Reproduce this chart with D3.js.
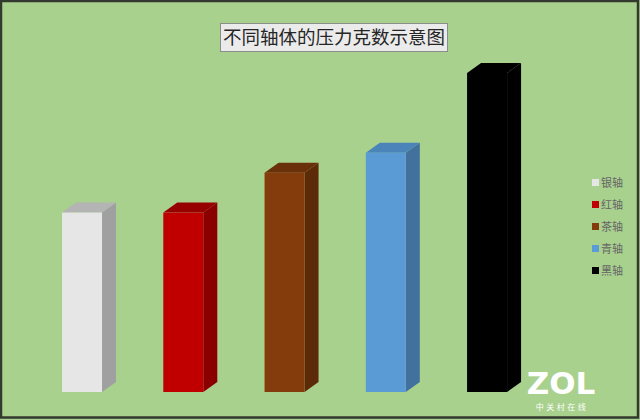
<!DOCTYPE html>
<html>
<head>
<meta charset="utf-8">
<script src="https://cdn.jsdelivr.net/npm/d3@7"></script>
<style>
  body { margin: 0; background: #fff; }
  svg { display: block; }
</style>
</head>
<body>
<svg id="chart" width="640" height="420"></svg>
<script>
// Chart data
const categories = ["银轴", "红轴", "茶轴", "青轴", "黑轴"];
const forces = [45, 45, 55, 60, 80];
const frontColors = ["#e6e6e6", "#c00000", "#843c0c", "#5b9bd5", "#000000"];
const sideColors = ["#a0a0a0", "#8a0000", "#5c2a08", "#41719c", "#000000"];
const topColors = ["#b4b4b4", "#960000", "#6a3009", "#4a84b8", "#000000"];

const width = 640;
const height = 420;
const depthX = 14;
const depthY = 10;

const svg = d3.select("#chart");

// background + dark frame
svg.append("rect")
  .attr("x", 0).attr("y", 0)
  .attr("width", width).attr("height", height)
  .attr("fill", "#a9d18e");

svg.append("rect")
  .attr("x", 1).attr("y", 1)
  .attr("width", width - 3).attr("height", height - 3.5)
  .attr("fill", "none")
  .attr("stroke", "#34392f")
  .attr("stroke-width", 2.5);

// scales
const x = d3.scaleBand()
  .domain(categories)
  .range([31.4, 537.7])
  .paddingInner(0.605)
  .paddingOuter(0.3025);

const y = d3.scaleLinear()
  .domain([0, 80])
  .range([392, 73]);

const data = categories.map((c, i) => ({
  name: c, value: forces[i],
  front: frontColors[i], side: sideColors[i], top: topColors[i]
}));

const bars = svg.append("g").selectAll("g")
  .data(data)
  .join("g");

// side face
bars.append("polygon")
  .attr("points", d => {
    const x1 = x(d.name) + x.bandwidth();
    const t = y(d.value), b = y(0);
    return [[x1, t], [x1 + depthX, t - depthY], [x1 + depthX, b - depthY], [x1, b]].join(" ");
  })
  .attr("fill", d => d.side);

// top face
bars.append("polygon")
  .attr("points", d => {
    const x0 = x(d.name), x1 = x0 + x.bandwidth();
    const t = y(d.value);
    return [[x0, t], [x0 + depthX, t - depthY], [x1 + depthX, t - depthY], [x1, t]].join(" ");
  })
  .attr("fill", d => d.top);

// front face
bars.append("rect")
  .attr("x", d => x(d.name))
  .attr("y", d => y(d.value))
  .attr("width", x.bandwidth())
  .attr("height", d => y(0) - y(d.value))
  .attr("fill", d => d.front);

// title box
const title = svg.append("g");
title.append("rect")
  .attr("x", 220.5).attr("y", 23.5)
  .attr("width", 227).attr("height", 28)
  .attr("fill", "#ebebeb")
  .attr("stroke", "#8c8c8c")
  .attr("stroke-width", 1);
title.append("text")
  .attr("x", 334).attr("y", 44)
  .attr("text-anchor", "middle")
  .attr("font-family", "'Noto Sans CJK SC', sans-serif")
  .attr("font-size", 18.5)
  .attr("fill", "#262626")
  .text("不同轴体的压力克数示意图");

// legend
const legend = svg.append("g")
  .selectAll("g")
  .data(data)
  .join("g")
  .attr("transform", (d, i) => `translate(592,${183 + i * 22})`);

legend.append("rect")
  .attr("x", 0).attr("y", -4)
  .attr("width", 7).attr("height", 7)
  .attr("fill", d => d.front);

legend.append("text")
  .attr("x", 9).attr("y", 4)
  .attr("font-family", "'Noto Sans CJK SC', sans-serif")
  .attr("font-size", 11)
  .attr("fill", "#666")
  .text(d => d.name);

// watermark
svg.append("text")
  .attr("x", 561).attr("y", 394)
  .attr("text-anchor", "middle")
  .attr("font-family", "'DejaVu Sans', sans-serif")
  .attr("font-weight", "bold")
  .attr("font-size", 31)
  .attr("fill", "#ffffff")
  .text("ZOL");

svg.append("text")
  .attr("x", 562).attr("y", 410)
  .attr("text-anchor", "middle")
  .attr("font-family", "'Noto Sans CJK SC', sans-serif")
  .attr("font-size", 8)
  .attr("letter-spacing", 2.5)
  .attr("fill", "#ffffff")
  .text("中关村在线");
</script>
</body>
</html>
